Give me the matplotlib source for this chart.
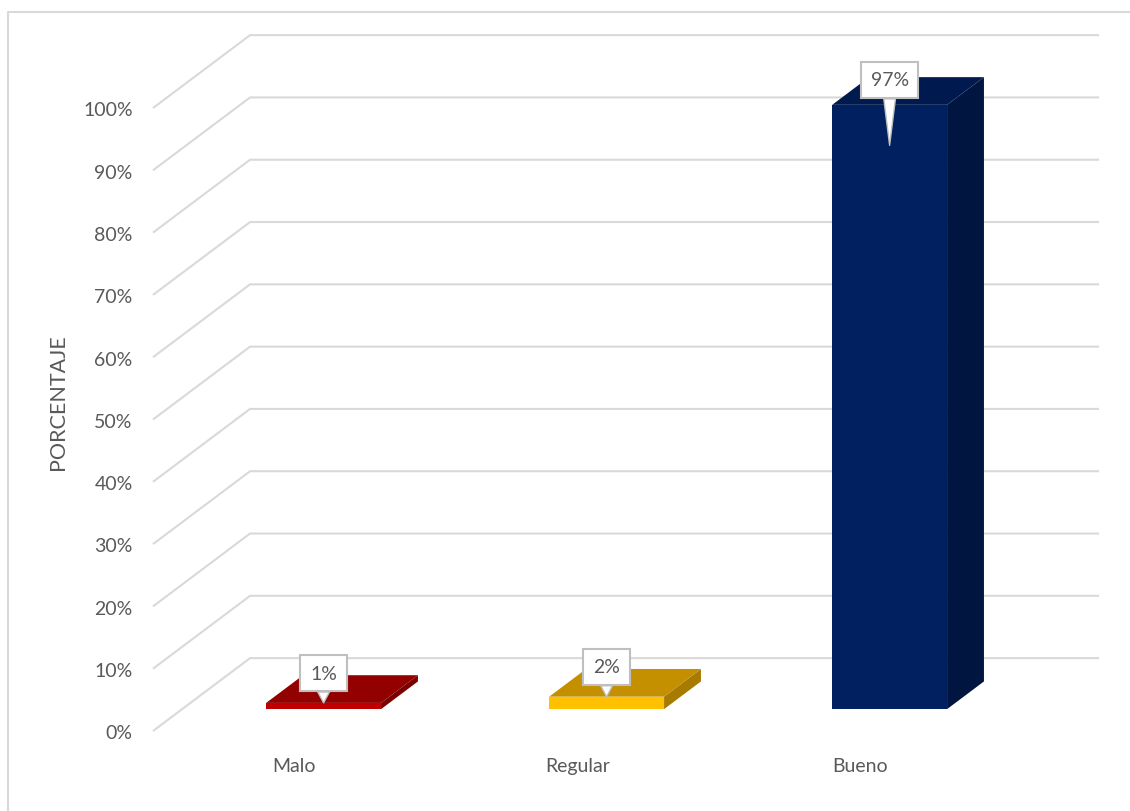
import matplotlib.pyplot as plt
from matplotlib.patches import Polygon

plt.rcParams['font.family'] = ['Lato', 'DejaVu Sans']

categories = ['Malo', 'Regular', 'Bueno']
values = [1, 2, 97]
labels = ['1%', '2%', '97%']
yticks = [0, 10, 20, 30, 40, 50, 60, 70, 80, 90, 100]

front_colors = ['#c00000', '#ffc000', '#002060']
top_colors = ['#930000', '#c49000', '#001a4f']
side_colors = ['#7a0000', '#a77b00', '#001640']

# 3d look: full depth of the wall, in data units (x = categories, y = percent)
DX = 0.343
DY = 11.7
D0, D1 = 0.30, 0.68   # bar depth, fraction of full depth
HALF = 0.203          # half width of the bar front

fig = plt.figure(figsize=(11.3, 8.12), dpi=100)
ax = fig.add_axes([0, 0, 1, 1])
ax.set_xlim(-1.0406, 2.9523)
ax.set_ylim(-12.84, 117.5)
ax.axis('off')

grid_c = '#d9d9d9'
txt_c = '#595959'
fs = 14
x_left = -0.5
x_right = 2.5
for t in yticks:
    ax.plot([x_left, x_left + DX, x_right + DX], [t, t + DY, t + DY],
            color=grid_c, lw=1.5, zorder=1, solid_capstyle='butt')
    ax.text(x_left - 0.072, t - 0.3, f'{t}%', ha='right', va='center',
            fontsize=fs, color=txt_c)

for i, v in enumerate(values):
    ox, oy = D0 * DX, D0 * DY
    bx, by = D1 * DX, D1 * DY
    xl = i - HALF + ox
    xr = i + HALF + ox
    front = [(xl, oy), (xr, oy), (xr, oy + v), (xl, oy + v)]
    dx, dy = bx - ox, by - oy
    top = [(xl, oy + v), (xr, oy + v), (xr + dx, oy + v + dy), (xl + dx, oy + v + dy)]
    side = [(xr, oy), (xr + dx, oy + dy), (xr + dx, oy + v + dy), (xr, oy + v)]
    ax.add_patch(Polygon(side, closed=True, fc=side_colors[i], ec='none', zorder=3))
    ax.add_patch(Polygon(top, closed=True, fc=top_colors[i], ec='none', zorder=3))
    ax.add_patch(Polygon(front, closed=True, fc=front_colors[i], ec='none', zorder=4))

    ax.text(i, -5.5, categories[i], ha='center', va='center',
            fontsize=fs, color=txt_c)

    # callout label
    cx = i + ox
    if v > 50:
        tip_y = oy + v - 6.5
        box_y = oy + v + 4.0
    else:
        tip_y = oy + v
        box_y = oy + v + 4.8
    ax.annotate(labels[i], xy=(cx, tip_y), xytext=(cx, box_y),
                ha='center', va='center', fontsize=fs, color=txt_c,
                bbox=dict(boxstyle='square,pad=0.5', fc='white', ec='#bfbfbf', lw=1.5),
                arrowprops=dict(arrowstyle='wedge,tail_width=0.6,shrink_factor=0.5',
                                fc='white', ec='#bfbfbf', lw=1, shrinkA=0, shrinkB=0),
                zorder=6)

ax.text(-0.836, 53, 'PORCENTAJE', rotation=90, ha='center', va='center',
        fontsize=15.5, color=txt_c)

# chart area border (left and top edges are visible)
ax.plot([-1.0406 + 8 / 283, -1.0406 + 8 / 283, 3.0], [-20, 117.5 - 13 / 6.23, 117.5 - 13 / 6.23],
        color='#d9d9d9', lw=1.5, zorder=0, clip_on=False)

fig.savefig('out.png', dpi=100)
